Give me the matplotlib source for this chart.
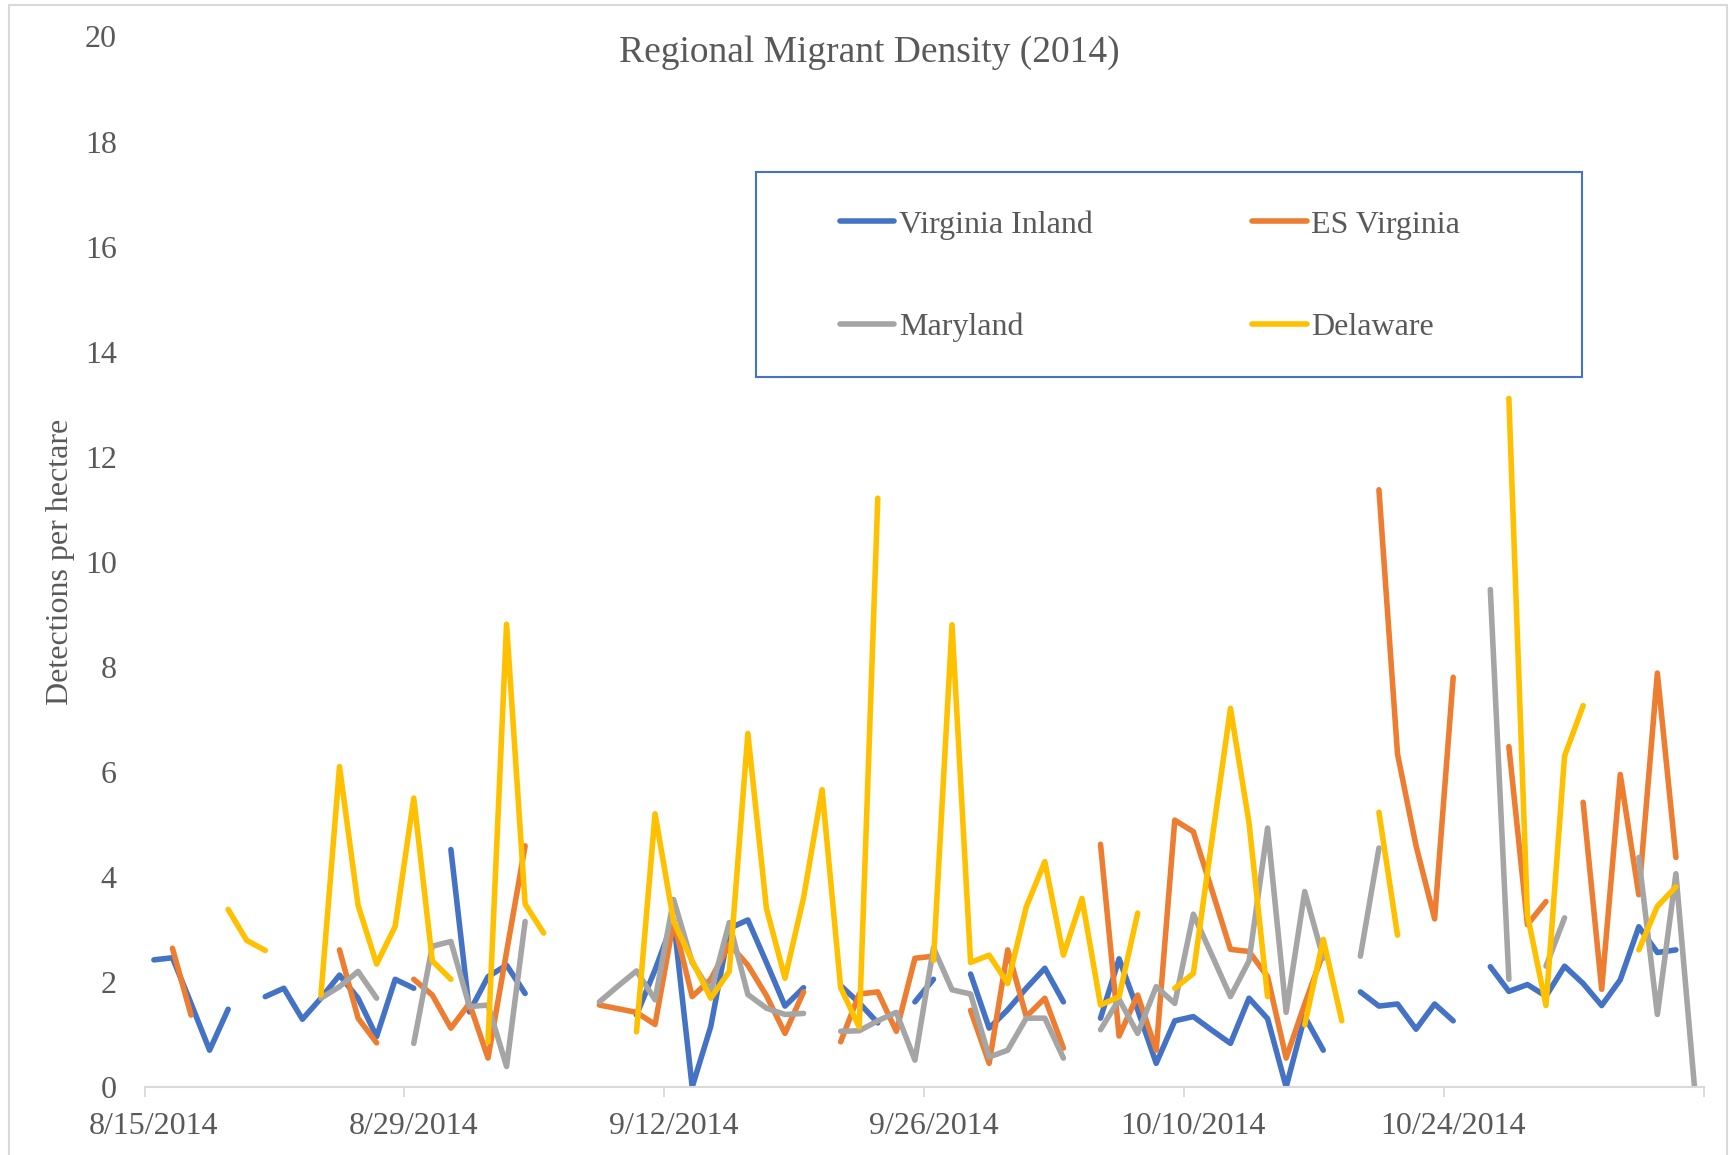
import numpy as np
import pandas as pd
import matplotlib
matplotlib.use('Agg')
import matplotlib.pyplot as plt
from matplotlib.patches import Rectangle

nan = np.nan

# daily series, 8/15/2014 .. 11/6/2014 (gaps = no survey)
dates = pd.date_range('2014-08-15', periods=84, freq='D')

virginia_inland = [
    2.42, 2.46, 1.59, 0.70, 1.48, nan, 1.72, 1.88, 1.29, 1.69,
    2.13, 1.69, 0.96, 2.05, 1.88, nan, 4.52, 1.43, 2.10, 2.32,
    1.78, nan, nan, nan, nan, nan, 1.37, 2.23, 3.18, 0.00,
    1.15, 3.02, 3.18, 2.37, 1.54, 1.89, nan, 1.93, 1.60, 1.22,
    nan, 1.62, 2.05, nan, 2.15, 1.12, 1.47, 1.88, 2.26, 1.62,
    nan, 1.31, 2.44, 1.47, 0.45, 1.26, 1.34, 1.08, 0.83, 1.69,
    1.30, 0.00, 1.34, 0.70, nan, 1.81, 1.54, 1.58, 1.10, 1.58,
    1.26, nan, 2.29, 1.82, 1.95, 1.73, 2.30, 1.97, 1.55, 2.04,
    3.05, 2.56, 2.61, nan]

es_virginia = [
    nan, 2.64, 1.37, nan, nan, nan, nan, nan, nan, nan,
    2.61, 1.31, 0.84, nan, 2.05, 1.75, 1.12, 1.59, 0.55, 2.57,
    4.59, nan, nan, nan, 1.56, 1.49, 1.42, 1.19, 3.15, 1.72,
    2.05, 2.72, 2.32, 1.74, 1.02, 1.81, nan, 0.86, 1.77, 1.81,
    1.06, 2.45, 2.49, nan, 1.46, 0.45, 2.61, 1.34, 1.69, 0.74,
    nan, 4.62, 0.97, 1.75, 0.70, 5.08, 4.86, 3.75, 2.62, 2.58,
    2.10, 0.55, 1.58, 2.55, nan, nan, 11.37, 6.34, 4.59, 3.20,
    7.80, nan, nan, 6.48, 3.09, 3.53, nan, 5.42, 1.86, 5.95,
    3.66, 7.88, 4.37, nan]

maryland = [
    nan, nan, nan, nan, nan, nan, nan, nan, nan, 1.69,
    1.91, 2.20, 1.69, nan, 0.83, 2.68, 2.77, 1.53, 1.56, 0.39,
    3.15, nan, nan, nan, 1.62, 1.92, 2.21, 1.66, 3.57, 2.37,
    1.81, 3.13, 1.76, 1.50, 1.38, 1.40, nan, 1.06, 1.07, 1.26,
    1.42, 0.51, 2.65, 1.85, 1.77, 0.57, 0.70, 1.31, 1.31, 0.55,
    nan, 1.09, 1.67, 1.02, 1.91, 1.59, 3.29, 2.51, 1.72, 2.40,
    4.93, 1.42, 3.72, 2.45, nan, 2.49, 4.55, nan, nan, nan,
    nan, nan, 9.47, 2.05, nan, 2.30, 3.22, nan, nan, nan,
    4.37, 1.38, 4.06, 0.00]

delaware = [
    nan, nan, nan, nan, 3.38, 2.79, 2.60, nan, nan, 1.75,
    6.10, 3.46, 2.34, 3.06, 5.50, 2.40, 2.05, nan, 0.86, 8.81,
    3.48, 2.93, nan, nan, nan, nan, 1.05, 5.20, 3.15, 2.40,
    1.69, 2.20, 6.73, 3.40, 2.07, 3.60, 5.66, 1.89, 1.14, 11.21,
    nan, nan, 2.41, 8.80, 2.37, 2.51, 1.97, 3.43, 4.29, 2.51,
    3.59, 1.56, 1.72, 3.31, nan, 1.88, 2.16, 4.69, 7.21, 5.03,
    1.72, nan, 1.18, 2.81, 1.26, nan, 5.23, 2.89, nan, nan,
    nan, nan, nan, 13.11, 3.27, 1.55, 6.30, 7.26, nan, nan,
    2.61, 3.44, 3.81, nan]

series_names = ['Virginia Inland', 'ES Virginia', 'Maryland', 'Delaware']
colors = ['#4472C4', '#ED7D31', '#A5A5A5', '#FFC000']

plt.rcParams['font.family'] = ['Liberation Serif', 'DejaVu Serif']
txt = '#595959'

fig = plt.figure(figsize=(17.32, 11.55), dpi=100)
ax = fig.add_axes([0.0835, 0.0589, 0.9002, 0.9095])

lines = []
for vals, name, c in zip([virginia_inland, es_virginia, maryland, delaware],
                         series_names, colors):
    ln, = ax.plot(dates, vals, color=c, lw=4, label=name,
                  solid_capstyle='round', solid_joinstyle='round')
    lines.append(ln)

half = pd.Timedelta(hours=12)
ax.set_xlim(dates[0] - half, dates[-1] + half)
ax.set_ylim(0, 20)
ax.set_yticks(range(0, 21, 2))

major = dates[::14]
ax.set_xticks(major, labels=[f'{d.month}/{d.day}/{d.year}' for d in major])
ax.set_xticks(list(major - half) + [dates[-1] + half], minor=True)
ax.tick_params(axis='x', which='major', length=0, pad=18, labelsize=23, labelcolor=txt)
ax.tick_params(axis='x', which='minor', length=7, width=1.3, color='#D9D9D9')
ax.tick_params(axis='y', length=0, pad=20, labelsize=23, labelcolor=txt)

for s in ['top', 'right', 'left']:
    ax.spines[s].set_visible(False)
ax.spines['bottom'].set_color('#D9D9D9')
ax.spines['bottom'].set_linewidth(1.5)

fig.text(0.502, 0.954, 'Regional Migrant Density (2014)', ha='center', va='center',
         fontsize=27, color=txt)
fig.text(0.0352, 0.5135, 'Detections per hectare', rotation=90, ha='center',
         va='center', fontsize=23, color=txt)

# legend box (rows: VI / ES, MD / DE)
ax.add_patch(Rectangle((0.392, 0.676), 0.530, 0.195, transform=ax.transAxes,
                       fill=False, edgecolor='#4472C4', lw=1.5, zorder=5))
order = [0, 2, 1, 3]
ax.legend([lines[i] for i in order], [series_names[i] for i in order],
          ncol=2, loc='upper left', bbox_to_anchor=(0.4355, 0.850),
          frameon=False, fontsize=23, labelcolor=txt, handlelength=1.7,
          handletextpad=0.15, columnspacing=5.0, labelspacing=2.28, borderpad=0)

# chart border
fig.patches.append(Rectangle((9 / 1732, -0.01), 1718 / 1732, 1.0 - 5 / 1155 + 0.01,
                             transform=fig.transFigure, fill=False,
                             edgecolor='#D9D9D9', lw=1.5))

plt.savefig('out.png', dpi=100)
